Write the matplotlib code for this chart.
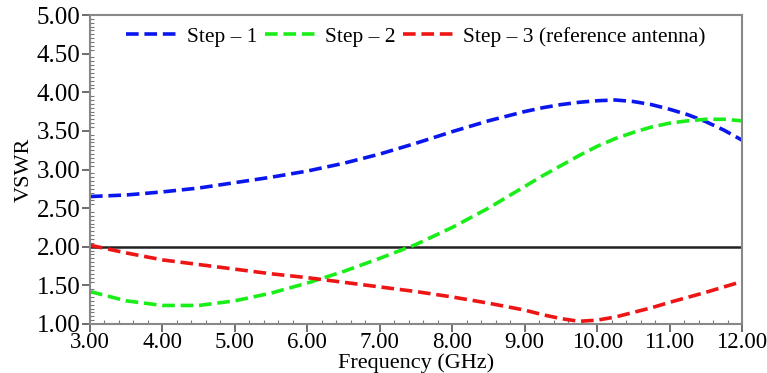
import numpy as np
import matplotlib
matplotlib.use("Agg")
import matplotlib.pyplot as plt
from matplotlib.ticker import MultipleLocator

plt.rcParams['font.family'] = ['Liberation Serif', 'DejaVu Serif']

freq = [3.0, 3.5, 4.0, 4.5, 5.0, 5.5, 6.0, 6.5, 7.0, 7.5, 8.0, 8.5, 9.0, 9.25,
        9.5, 9.75, 10.0, 10.25, 10.5, 10.75, 11.0, 11.25, 11.5, 11.75, 12.0]
step1 = [2.65, 2.67, 2.71, 2.76, 2.83, 2.90, 2.98, 3.08, 3.20, 3.34, 3.49, 3.63,
         3.75, 3.80, 3.84, 3.87, 3.89, 3.90, 3.88, 3.84, 3.78, 3.71, 3.62, 3.51, 3.38]
step2 = [1.42, 1.30, 1.24, 1.24, 1.30, 1.40, 1.53, 1.68, 1.85, 2.03, 2.25, 2.50,
         2.78, 2.92, 3.05, 3.18, 3.30, 3.40, 3.48, 3.55, 3.60, 3.63, 3.65, 3.65, 3.63]
step3 = [2.02, 1.92, 1.83, 1.77, 1.71, 1.65, 1.60, 1.54, 1.48, 1.42, 1.35, 1.27,
         1.18, 1.12, 1.07, 1.035, 1.05, 1.09, 1.15, 1.21, 1.28, 1.345, 1.41, 1.48, 1.55]
labels = ["Step \u2013 1", "Step \u2013 2", "Step \u2013 3 (reference antenna)"]
ref_level = 2.0

fig = plt.figure(figsize=(7.67, 3.73), dpi=100)
ax = fig.add_axes([90 / 767, 1 - 324 / 373, 652 / 767, 309 / 373])

ax.axhline(ref_level, color="#222222", lw=1.8, zorder=1)
dash = (3.5, 1.6)
ax.plot(freq, step1, color="#0a16ee", lw=2.6, dashes=dash, label=labels[0])
ax.plot(freq, step2, color="#19ee19", lw=2.6, dashes=dash, label=labels[1])
ax.plot(freq, step3, color="#ee1515", lw=2.6, dashes=dash, label=labels[2])

ax.set_xlim(3, 12)
ax.set_ylim(1, 5)
ax.xaxis.set_major_locator(MultipleLocator(1))
ax.xaxis.set_minor_locator(MultipleLocator(0.2))
ax.yaxis.set_major_locator(MultipleLocator(0.5))
ax.yaxis.set_minor_locator(MultipleLocator(0.05))
ax.xaxis.set_major_formatter(lambda v, p: "%.2f" % v)
ax.yaxis.set_major_formatter(lambda v, p: "%.2f" % v)
ax.tick_params(which="major", direction="out", length=6, width=1.2,
               color="#555555", pad=1)
ax.tick_params(axis="y", which="major", labelsize=18)
ax.tick_params(axis="x", which="major", labelsize=16.5, pad=0)
ax.tick_params(which="minor", direction="in", length=3, width=0.8,
               color="#777777")
for s in ax.spines.values():
    s.set_color("#888888")
    s.set_linewidth(1.5)

ax.set_xlabel("Frequency (GHz)", fontsize=16, labelpad=0)
ax.set_ylabel("VSWR", fontsize=16, labelpad=2)

ax.legend(loc="upper center", ncol=3, frameon=False, fontsize=15.5,
          handlelength=2.5, handletextpad=0.3, columnspacing=0.35,
          bbox_to_anchor=(0.5, 1.025))

fig.savefig("out.png", dpi=100)
